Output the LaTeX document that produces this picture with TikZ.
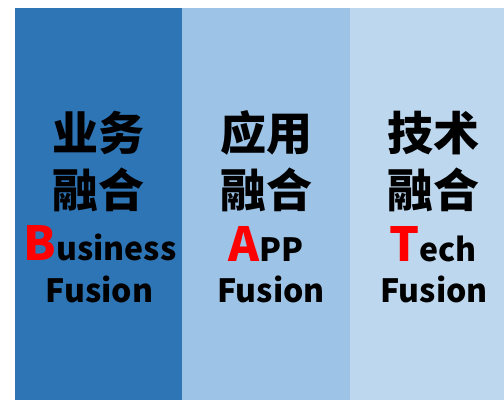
\documentclass[tikz,border=0pt]{standalone}
\usepackage{fontspec}
\newfontfamily\cjk{Noto Sans CJK SC}
\usetikzlibrary{positioning}
\definecolor{bizblue}{HTML}{2E75B6}
\definecolor{appblue}{HTML}{9DC3E6}
\definecolor{techblue}{HTML}{BDD7EE}
\newcommand{\capred}[1]{\textcolor{red}{\fontsize{47}{47}\selectfont #1}}

\begin{document}
\begin{tikzpicture}[x=1pt,y=1pt,inner sep=0pt]
      \tikzstyle{column}=[draw=none,minimum width=168pt,minimum height=392pt,anchor=north west]
      \tikzstyle{zh}=[anchor=base,font=\cjk\bfseries\fontsize{46}{46}\selectfont]
      \tikzstyle{en}=[anchor=base,font=\cjk\bfseries\fontsize{32}{32}\selectfont]

      \useasboundingbox (0,0) rectangle (504,-400);

      % three columns
      \node[column,fill=bizblue]  (B) at (15,-8)  {};
      \node[column,fill=appblue]  (A) at (182,-8) {};
      \node[column,fill=techblue] (T) at (350,-8) {};

      % business
      \node[zh] (B1) at (98.5,-150) {业务};
      \node[zh] (B2) at (98.5,-207) {融合};
      \node[en] (B3) at (100,-260) {\capred{B}usiness};
      \node[en] (B4) at (99.5,-302) {Fusion};

      % app
      \node[zh] (A1) at (266,-150) {应用};
      \node[zh] (A2) at (266,-207) {融合};
      \node[en] (A3) at (266,-261) {\capred{A}PP};
      \node[en] (A4) at (271,-302) {Fusion};

      % tech
      \node[zh] (T1) at (433,-150) {技术};
      \node[zh] (T2) at (433,-207) {融合};
      \node[en] (T3) at (433,-261) {\capred{T}ech};
      \node[en] (T4) at (434,-302) {Fusion};

  \end{tikzpicture}
\end{document}
